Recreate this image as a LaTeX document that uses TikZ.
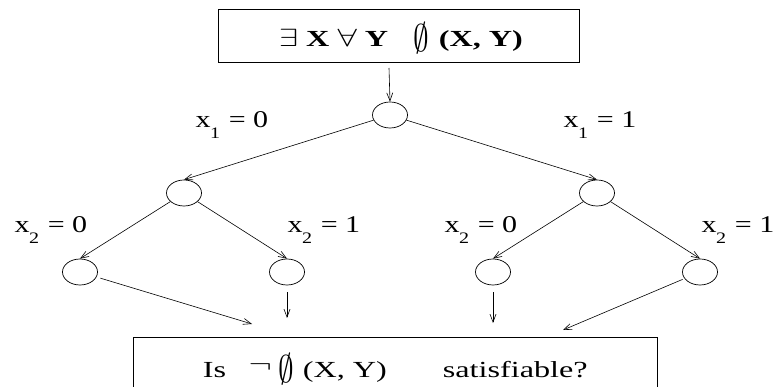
\documentclass[tikz,border=0pt]{standalone}
\usepackage{fontspec}
\setmainfont{Liberation Serif}
\usetikzlibrary{shapes.geometric,arrows.meta}
\newcommand\wideit[1]{\scalebox{1.4}[1]{#1}}
\newcommand\labwide[1]{\scalebox{1.25}[1]{#1}}
\newcommand\tallempty{\raisebox{-5pt}{\scalebox{0.9}[1.55]{$\emptyset$}}}
\newcommand\xlab[2]{\labwide{x\kern-0.5pt\raisebox{-11pt}{\fontsize{16}{16}\selectfont #1}\kern1pt\ =\ #2}}
\begin{document}
\begin{tikzpicture}[x=1pt,y=-1pt,
  every node/.style={font=\fontsize{23}{26}\selectfont},
  st/.style={draw, ellipse, minimum width=35pt, minimum height=26pt, inner sep=0pt, line width=0.7pt},
  bx/.style={draw, rectangle, line width=0.7pt, inner xsep=0pt, inner ysep=0pt},
  ar/.style={line width=0.6pt, -{Straight Barb[length=8pt,width=6pt]}},
  lab/.style={anchor=base, font=\fontsize{24}{26}\selectfont}]
\useasboundingbox (0,0) rectangle (776,387);
% top box
\node[bx, anchor=north west, minimum width=361pt, text height=37pt, text depth=16pt] (top) at (218,9)
  {\hspace{4pt}\wideit{$\exists$ \textbf{X} $\forall$ \textbf{Y}\hspace{18pt}\tallempty\hspace{7pt}\textbf{(X, Y)}}};
% tree
\node[st] (r) at (390,115) {};
\node[st] (a) at (184,193) {};
\node[st] (b) at (597,193) {};
\node[st] (a1) at (80,272) {};
\node[st] (a2) at (287,272) {};
\node[st] (b1) at (493,272) {};
\node[st] (b2) at (700,272) {};
\coordinate (t0) at (389,68);
\draw[ar] (t0) -- (r.north);
\draw[ar] (r) -- (a.north);
\draw[ar] (r) -- (b.north);
\draw[ar] (a) -- (a1.north);
\draw[ar] (a) -- (a2.north);
\draw[ar] (b) -- (b1.north);
\draw[ar] (b) -- (b2.north);
% labels
\node[lab] at (232,128) {\xlab{1}{0}};
\node[lab] at (600,128) {\xlab{1}{1}};
\node[lab] at (51,233) {\xlab{2}{0}};
\node[lab] at (324,233) {\xlab{2}{1}};
\node[lab] at (481,233) {\xlab{2}{0}};
\node[lab] at (738,233) {\xlab{2}{1}};
% bottom box
\node[bx, anchor=north west, minimum width=524pt, text height=40pt, text depth=26pt] (bot) at (133,337)
  {\wideit{Is\hspace{16pt}\raisebox{5pt}{$\neg$}\hspace{5pt}\tallempty\hspace{6pt}(X, Y)\hspace{40pt}satisfiable?}\hspace{8pt}};
\coordinate (e1) at (252,324);
\coordinate (e2) at (287,318);
\coordinate (e3) at (493,323);
\coordinate (e4) at (563,330);
\draw[ar, shorten <=4pt] (a1) -- (e1);
\draw[ar, shorten <=7pt] (a2.south) -- (e2);
\draw[ar, shorten <=7pt] (b1.south) -- (e3);
\draw[ar, shorten <=2pt] (b2) -- (e4);
\end{tikzpicture}
\end{document}
